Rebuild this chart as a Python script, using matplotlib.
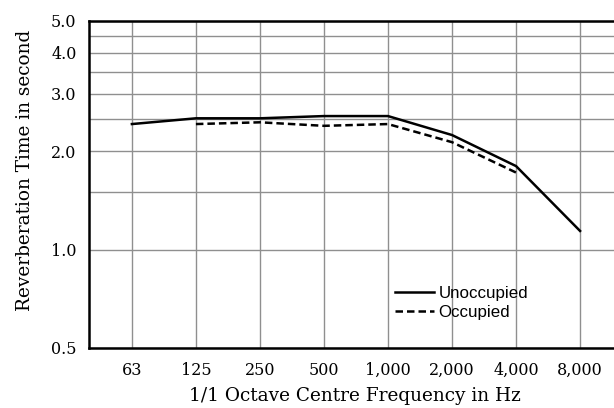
import numpy as np
import matplotlib.pyplot as plt
from matplotlib.ticker import FixedLocator, NullFormatter

# octave band centre frequencies
freqs = ["63", "125", "250", "500", "1,000", "2,000", "4,000", "8,000"]

# reverberation time (s)
unoccupied = [2.42, 2.52, 2.52, 2.56, 2.56, 2.24, 1.80, 1.14]
occupied = [None, 2.42, 2.45, 2.39, 2.42, 2.13, 1.72, None]

y_ticks = [0.5, 1.0, 2.0, 3.0, 4.0, 5.0]
y_minor = [1.5, 2.5, 3.5, 4.5]

serif = "DejaVu Serif"

fig = plt.figure(figsize=(6.14, 4.08), dpi=100)
ax = fig.add_axes([89 / 614, 60 / 408, 525 / 614, 327 / 408])

x = np.arange(len(freqs))
occ = np.array([np.nan if v is None else v for v in occupied])

ax.plot(x, unoccupied, color="black", lw=1.8, label="Unoccupied")
ax.plot(x, occ, color="black", lw=1.8, ls=(0, (3, 1.6)), label="Occupied")

ax.set_yscale("log")
ax.set_ylim(0.5, 5.0)
ax.set_xlim(-0.67, 7.53)

ax.yaxis.set_major_locator(FixedLocator(y_ticks))
ax.set_yticklabels([f"{v:.1f}" for v in y_ticks], fontfamily=serif, fontsize=11.5)
ax.yaxis.set_minor_locator(FixedLocator(y_minor))
ax.yaxis.set_minor_formatter(NullFormatter())

ax.set_xticks(x)
ax.set_xticklabels(freqs, fontfamily=serif, fontsize=11.5)

ax.tick_params(axis="both", which="both", length=0)
ax.tick_params(axis="y", pad=9)
ax.tick_params(axis="x", pad=10)

ax.grid(True, which="both", color="#8f8f8f", lw=1.0)
ax.set_axisbelow(True)

for s in ["left", "bottom", "top"]:
    ax.spines[s].set_linewidth(1.8)
ax.spines["right"].set_visible(False)

ax.set_xlabel("1/1 Octave Centre Frequency in Hz", fontfamily=serif, fontsize=13.3)
ax.xaxis.set_label_coords(0.507, -0.118)
ax.set_ylabel("Reverberation Time in second", fontfamily=serif, fontsize=13.3)
ax.yaxis.set_label_coords(-0.105, 0.544)

leg = ax.legend(loc="upper left", bbox_to_anchor=(0.583, 0.19), frameon=False,
                prop={"family": "Liberation Sans", "size": 12.2},
                handlelength=2.3, handletextpad=0.25, labelspacing=0.25,
                borderpad=0, borderaxespad=0)

fig.savefig("out.png", dpi=100)
